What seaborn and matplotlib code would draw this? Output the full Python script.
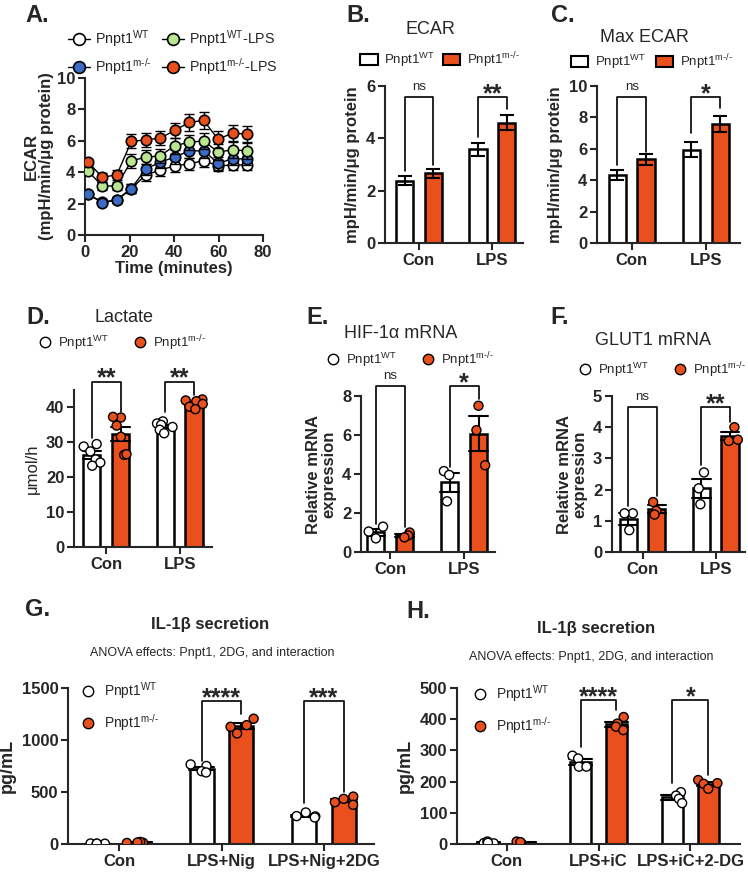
import matplotlib.pyplot as plt
import numpy as np
import pandas as pd
import seaborn as sns
from matplotlib.lines import Line2D
from matplotlib.patches import Patch

# ---- data -------------------------------------------------------------
time_min = [1.3, 7.8, 14.3, 20.8, 27.3, 33.8, 40.3, 46.8, 53.3, 59.8, 66.3, 72.8]
ecar_wt = [2.6, 2.1, 2.2, 2.95, 3.82, 4.14, 4.4, 4.53, 4.74, 4.4, 4.46, 4.46]
ecar_ko = [2.6, 2.06, 2.26, 2.96, 4.2, 4.64, 4.96, 5.36, 5.36, 4.57, 4.85, 4.85]
ecar_wt_lps = [4.08, 3.11, 3.13, 4.72, 4.96, 5.04, 5.69, 5.9, 6.0, 5.28, 5.43, 5.36]
ecar_ko_lps = [4.64, 3.68, 3.83, 5.96, 6.06, 6.17, 6.66, 7.17, 7.3, 6.1, 6.49, 6.43]
ecar_wt_err = [0.15, 0.15, 0.15, 0.3, 0.35, 0.4, 0.4, 0.4, 0.4, 0.35, 0.35, 0.35]
ecar_ko_err = [0.15, 0.15, 0.15, 0.3, 0.35, 0.4, 0.45, 0.45, 0.45, 0.4, 0.4, 0.4]
ecar_wt_lps_err = [0.2, 0.25, 0.25, 0.45, 0.45, 0.45, 0.5, 0.5, 0.5, 0.5, 0.5, 0.5]
ecar_ko_lps_err = [0.2, 0.3, 0.3, 0.45, 0.45, 0.45, 0.5, 0.55, 0.55, 0.55, 0.5, 0.5]

treatments = ["Con", "LPS"]
ecar_mean_wt = [2.38, 3.58]
ecar_sem_wt = [0.18, 0.24]
ecar_mean_ko = [2.66, 4.6]
ecar_sem_ko = [0.17, 0.28]
max_ecar_mean_wt = [4.35, 5.94]
max_ecar_sem_wt = [0.33, 0.47]
max_ecar_mean_ko = [5.33, 7.56]
max_ecar_sem_ko = [0.35, 0.52]

lactate_wt_con = [28.8, 29.5, 27.4, 25.1, 24.2, 23.3]
lactate_ko_con = [37.1, 37.3, 34.8, 31.6, 26.4, 26.6]
lactate_wt_lps = [36.0, 35.4, 35.0, 34.4, 33.6, 32.6]
lactate_ko_lps = [42.3, 42.0, 41.8, 41.0, 40.2, 39.5]

hif_wt_con = [1.3, 1.05, 0.7]
hif_ko_con = [1.0, 0.85, 0.75]
hif_wt_lps = [4.15, 3.95, 2.6]
hif_ko_lps = [7.5, 6.25, 4.45]

glut_wt_con = [1.24, 1.24, 0.7]
glut_ko_con = [1.6, 1.32, 1.2]
glut_wt_lps = [2.55, 2.04, 1.53]
glut_ko_lps = [4.0, 3.56, 3.6]

nig_treatments = ["Con", "LPS+Nig", "LPS+Nig+2DG"]
il_nig_wt_con = [5, 3, 2, 4]
il_nig_ko_con = [12, 20, 15, 10]
il_nig_wt_lps = [765, 750, 700, 688]
il_nig_ko_lps = [1205, 1143, 1127, 1063]
il_nig_wt_2dg = [303, 268, 265, 255]
il_nig_ko_2dg = [456, 434, 377, 402]

ic_treatments = ["Con", "LPS+iC", "LPS+iC+2-DG"]
il_ic_wt_con = [3, 8, 2, 4]
il_ic_ko_con = [8, 2, 3, 6]
il_ic_wt_lps = [283, 274, 248, 248]
il_ic_ko_lps = [407, 386, 376, 365]
il_ic_wt_2dg = [166, 155, 145, 131]
il_ic_ko_2dg = [205, 195, 193, 177]

# ---- style ------------------------------------------------------------
ORANGE = "#E9501E"
BLUE = "#3A6CC6"
GREEN = "#B9E68F"
PAL = {"WT": "white", "KO": ORANGE}
WT_LABEL = r"Pnpt1$^{\rm WT}$"
KO_LABEL = r"Pnpt1$^{\rm m\text{-/-}}$"

sns.set_style("ticks")
plt.rcParams["font.family"] = ["Liberation Sans", "DejaVu Sans"]
plt.rcParams["mathtext.fontset"] = "custom"
plt.rcParams["mathtext.rm"] = "Liberation Sans"
plt.rcParams["mathtext.it"] = "Liberation Sans:italic"
plt.rcParams["mathtext.bf"] = "Liberation Sans:bold"
plt.rcParams["axes.linewidth"] = 1.5
np.random.seed(7)  # fixed jitter of the dot columns

W, H = 748, 874


def px_rect(left, right, top, bottom):
    return [left / W, 1 - bottom / H, (right - left) / W, (bottom - top) / H]


def fig_xy(x, y):
    return (x / W, 1 - y / H)


def style_axis(ax, xlim, ylim, yticks):
    sns.despine(ax=ax)
    ax.set_xlim(xlim)
    ax.set_ylim(ylim)
    ax.set_yticks(yticks)
    ax.tick_params(labelsize=12, width=1.5, length=5, pad=2)
    for lbl in ax.get_xticklabels() + ax.get_yticklabels():
        lbl.set_fontweight("bold")
    ax.set_xlabel("")


def long_df(groups):
    rows = []
    for (treat, geno), vals in groups.items():
        for v in vals:
            rows.append({"treatment": treat, "genotype": geno, "value": v})
    return pd.DataFrame(rows)


def summary_bars(ax, wt_mean, wt_sem, ko_mean, ko_sem):
    df = pd.DataFrame({
        "treatment": treatments * 2,
        "genotype": ["WT"] * 2 + ["KO"] * 2,
        "value": wt_mean + ko_mean,
    })
    sns.barplot(data=df, x="treatment", y="value", hue="genotype",
                hue_order=["WT", "KO"], palette=PAL, saturation=1,
                edgecolor="k", linewidth=1.8, width=0.78, gap=0.4,
                errorbar=None, legend=False, ax=ax)
    for cont, sem in zip(ax.containers, [wt_sem, ko_sem]):
        xs = [p.get_x() + p.get_width() / 2 for p in cont]
        ys = [p.get_height() for p in cont]
        ax.errorbar(xs, ys, yerr=sem, fmt="none", ecolor="k",
                    elinewidth=1.5, capsize=5, capthick=1.5, zorder=3)


def point_bars(ax, df, order):
    sns.barplot(data=df, x="treatment", y="value", hue="genotype",
                order=order, hue_order=["WT", "KO"], palette=PAL,
                saturation=1, edgecolor="k", linewidth=1.8, width=0.78,
                gap=0.4, errorbar="se", capsize=0.5,
                err_kws={"color": "k", "linewidth": 1.5},
                legend=False, ax=ax)
    sns.stripplot(data=df, x="treatment", y="value", hue="genotype",
                  order=order, hue_order=["WT", "KO"], palette=PAL,
                  dodge=True, jitter=0.25, edgecolor="k", linewidth=1,
                  size=6.5, legend=False, ax=ax)


def brackets(ax, specs):
    wt_x = [p.get_x() + p.get_width() / 2 for p in ax.containers[0]]
    ko_x = [p.get_x() + p.get_width() / 2 for p in ax.containers[1]]
    for idx, top, y1, y2, label in specs:
        x1, x2 = wt_x[idx], ko_x[idx]
        ax.plot([x1, x1, x2, x2], [y1, top, top, y2], color="k", lw=1.2,
                clip_on=False, zorder=5)
        if label == "ns":
            ax.annotate(label, ((x1 + x2) / 2, top), xytext=(0, 3),
                        textcoords="offset points", ha="center",
                        va="bottom", fontsize=9.5, annotation_clip=False)
        else:
            ax.annotate(label, ((x1 + x2) / 2, top), xytext=(0, -6.5),
                        textcoords="offset points", ha="center",
                        va="bottom", fontsize=18, fontweight="bold",
                        annotation_clip=False)


def circle_handles():
    return [Line2D([0], [0], ls="none", marker="o", ms=7.5, mfc="white", mec="k", mew=1),
            Line2D([0], [0], ls="none", marker="o", ms=7.5, mfc=ORANGE, mec="k", mew=1)]


fig = plt.figure(figsize=(W / 100, H / 100), dpi=100)

# ---- A: ECAR time course ----------------------------------------------
ax = fig.add_axes(px_rect(85, 263, 78, 235))
series = [
    (ecar_wt, ecar_wt_err, "white", WT_LABEL),
    (ecar_ko, ecar_ko_err, BLUE, KO_LABEL),
    (ecar_wt_lps, ecar_wt_lps_err, GREEN, WT_LABEL + "-LPS"),
    (ecar_ko_lps, ecar_ko_lps_err, ORANGE, KO_LABEL + "-LPS"),
]
handles = []
for i, (vals, err, fill, lab) in enumerate(series):
    ax.errorbar(time_min, vals, yerr=err, fmt="none", ecolor="k",
                elinewidth=1, capsize=3.5, capthick=1, zorder=2 + i)
    sns.lineplot(x=time_min, y=vals, color="k", lw=1, marker="o", ms=7.5,
                 markerfacecolor=fill, markeredgecolor="k", mew=1.2,
                 zorder=2.5 + i, ax=ax)
    handles.append(Line2D([0], [0], color="k", lw=1, marker="o", ms=8.5,
                          mfc=fill, mec="k", mew=1.2))
style_axis(ax, (0, 80), (0, 10), [0, 2, 4, 6, 8, 10])
ax.set_xticks([0, 20, 40, 60, 80])
for lbl in ax.get_xticklabels():
    lbl.set_fontweight("bold")
ax.set_xlabel("Time (minutes)", fontsize=12, fontweight="bold", labelpad=1)
ax.set_ylabel("ECAR\n(mpH/min/μg protein)", fontsize=12, fontweight="bold",
              labelpad=2, linespacing=1.0)
fig.legend(handles, [s[3] for s in series], ncol=2, loc="center",
           bbox_to_anchor=fig_xy(173, 53), frameon=False, fontsize=10.3,
           handlelength=1.5, handletextpad=0.4, columnspacing=0.7,
           labelspacing=0.45)

# ---- B / C: ECAR bars --------------------------------------------------
sq_handles = [Patch(facecolor="white", edgecolor="k", lw=1.5),
              Patch(facecolor=ORANGE, edgecolor="k", lw=1.5)]

ax = fig.add_axes(px_rect(385, 523, 86, 243))
summary_bars(ax, ecar_mean_wt, ecar_sem_wt, ecar_mean_ko, ecar_sem_ko)
style_axis(ax, (-0.46, 1.415), (0, 6), [0, 2, 4, 6])
ax.set_ylabel("mpH/min/μg protein", fontsize=12, fontweight="bold", labelpad=4)
brackets(ax, [(0, 5.57, 2.77, 2.97, "ns"), (1, 5.57, 4.05, 5.14, "**")])
fig.legend(sq_handles, [WT_LABEL, KO_LABEL], ncol=2, loc="center",
           bbox_to_anchor=fig_xy(440, 60), frameon=False, fontsize=9.5,
           handlelength=1.3, handleheight=0.9, handletextpad=0.5,
           columnspacing=0.6)

ax = fig.add_axes(px_rect(597, 740, 86, 243))
summary_bars(ax, max_ecar_mean_wt, max_ecar_sem_wt, max_ecar_mean_ko, max_ecar_sem_ko)
style_axis(ax, (-0.468, 1.46), (0, 10), [0, 2, 4, 6, 8, 10])
ax.set_ylabel("mpH/min/μg protein", fontsize=12, fontweight="bold", labelpad=4)
brackets(ax, [(0, 9.3, 4.95, 5.8, "ns"), (1, 9.3, 7.0, 8.58, "*")])
fig.legend(sq_handles, [WT_LABEL, KO_LABEL], ncol=2, loc="center",
           bbox_to_anchor=fig_xy(652, 62), frameon=False, fontsize=9.5,
           handlelength=1.3, handleheight=0.9, handletextpad=0.5,
           columnspacing=0.8)

# ---- D: lactate --------------------------------------------------------
ax = fig.add_axes(px_rect(74, 212, 390, 547))
df = long_df({("Con", "WT"): lactate_wt_con, ("Con", "KO"): lactate_ko_con,
              ("LPS", "WT"): lactate_wt_lps, ("LPS", "KO"): lactate_ko_lps})
point_bars(ax, df, treatments)
style_axis(ax, (-0.438, 1.439), (0, 45), [0, 10, 20, 30, 40])
ax.set_ylabel("μmol/h", fontsize=12, labelpad=4)
brackets(ax, [(0, 47.4, 31.1, 38.7, "**"), (1, 47.4, 38.7, 43.6, "**")])
fig.legend(circle_handles(), [WT_LABEL, KO_LABEL], ncol=2, loc="center",
           bbox_to_anchor=fig_xy(122, 343), frameon=False, fontsize=9.5,
           handlelength=1.0, handletextpad=0.5, columnspacing=1.8)

# ---- E: HIF-1a ---------------------------------------------------------
ax = fig.add_axes(px_rect(361, 495, 396, 552))
df = long_df({("Con", "WT"): hif_wt_con, ("Con", "KO"): hif_ko_con,
              ("LPS", "WT"): hif_wt_lps, ("LPS", "KO"): hif_ko_lps})
point_bars(ax, df, treatments)
style_axis(ax, (-0.396, 1.418), (0, 8), [0, 2, 4, 6, 8])
ax.set_ylabel("Relative mRNA\nexpression", fontsize=12, fontweight="bold",
              labelpad=4, linespacing=1.0)
brackets(ax, [(0, 8.5, 1.45, 1.3, "ns"), (1, 8.5, 4.37, 7.86, "*")])
fig.legend(circle_handles(), [WT_LABEL, KO_LABEL], ncol=2, loc="center",
           bbox_to_anchor=fig_xy(410, 360), frameon=False, fontsize=9.5,
           handlelength=1.0, handletextpad=0.5, columnspacing=1.8)

# ---- F: GLUT1 ----------------------------------------------------------
ax = fig.add_axes(px_rect(612, 745, 396, 552))
df = long_df({("Con", "WT"): glut_wt_con, ("Con", "KO"): glut_ko_con,
              ("LPS", "WT"): glut_wt_lps, ("LPS", "KO"): glut_ko_lps})
point_bars(ax, df, treatments)
style_axis(ax, (-0.418, 1.4), (0, 5), [0, 1, 2, 3, 4, 5])
ax.set_ylabel("Relative mRNA\nexpression", fontsize=12, fontweight="bold",
              labelpad=4, linespacing=1.0)
brackets(ax, [(0, 4.65, 1.46, 1.78, "ns"), (1, 4.65, 2.79, 4.17, "**")])
fig.legend(circle_handles(), [WT_LABEL, KO_LABEL], ncol=2, loc="center",
           bbox_to_anchor=fig_xy(662, 370), frameon=False, fontsize=9.5,
           handlelength=1.0, handletextpad=0.5, columnspacing=1.8)

# ---- G: IL-1b with nigericin ------------------------------------------
ax = fig.add_axes(px_rect(68, 374, 688, 844))
df = long_df({("Con", "WT"): il_nig_wt_con, ("Con", "KO"): il_nig_ko_con,
              ("LPS+Nig", "WT"): il_nig_wt_lps, ("LPS+Nig", "KO"): il_nig_ko_lps,
              ("LPS+Nig+2DG", "WT"): il_nig_wt_2dg, ("LPS+Nig+2DG", "KO"): il_nig_ko_2dg})
point_bars(ax, df, nig_treatments)
style_axis(ax, (-0.5, 2.49), (0, 1500), [0, 500, 1000, 1500])
ax.set_ylabel("pg/mL", fontsize=13, fontweight="bold", labelpad=4)
brackets(ax, [(1, 1375, 800, 1254, "****"), (2, 1375, 392, 504, "***")])
ax.legend(circle_handles(), [WT_LABEL, KO_LABEL], loc="upper left",
          bbox_to_anchor=fig_xy(69, 668), bbox_transform=fig.transFigure,
          frameon=False, fontsize=10, handlelength=1.0, handletextpad=0.6,
          labelspacing=0.75)

# ---- H: IL-1b with iC --------------------------------------------------
ax = fig.add_axes(px_rect(457, 740, 688, 844))
df = long_df({("Con", "WT"): il_ic_wt_con, ("Con", "KO"): il_ic_ko_con,
              ("LPS+iC", "WT"): il_ic_wt_lps, ("LPS+iC", "KO"): il_ic_ko_lps,
              ("LPS+iC+2-DG", "WT"): il_ic_wt_2dg, ("LPS+iC+2-DG", "KO"): il_ic_ko_2dg})
point_bars(ax, df, ic_treatments)
style_axis(ax, (-0.54, 2.54), (0, 500), [0, 100, 200, 300, 400, 500])
ax.set_ylabel("pg/mL", fontsize=13, fontweight="bold", labelpad=4)
brackets(ax, [(1, 460, 312, 431, "****"), (2, 460, 195, 221, "*")])
ax.legend(circle_handles(), [WT_LABEL, KO_LABEL], loc="upper left",
          bbox_to_anchor=fig_xy(461, 671), bbox_transform=fig.transFigure,
          frameon=False, fontsize=10, handlelength=1.0, handletextpad=0.6,
          labelspacing=0.75)

# ---- titles and panel letters -----------------------------------------
for letter, (x, y) in {"A.": (37, 15), "B.": (358, 15), "C.": (563, 15),
                       "D.": (38, 318), "E.": (318, 318), "F.": (560, 318),
                       "G.": (38, 609), "H.": (418, 612)}.items():
    fig.text(*fig_xy(x, y), letter, fontsize=17, fontweight="bold",
             ha="center", va="center")

for title, (x, y) in {"ECAR": (430, 30), "Max ECAR": (644, 37),
                      "Lactate": (124, 318), "HIF-1α mRNA": (401, 333),
                      "GLUT1 mRNA": (653, 340)}.items():
    fig.text(*fig_xy(x, y), title, fontsize=13, ha="center", va="center")

fig.text(*fig_xy(210, 624), "IL-1β secretion", fontsize=12, fontweight="bold",
         ha="center", va="center")
fig.text(*fig_xy(212, 653), "ANOVA effects: Pnpt1, 2DG, and interaction",
         fontsize=9, ha="center", va="center")
fig.text(*fig_xy(596, 628), "IL-1β secretion", fontsize=12, fontweight="bold",
         ha="center", va="center")
fig.text(*fig_xy(591, 657), "ANOVA effects: Pnpt1, 2DG, and interaction",
         fontsize=9, ha="center", va="center")

fig.savefig("out.png", dpi=100)
